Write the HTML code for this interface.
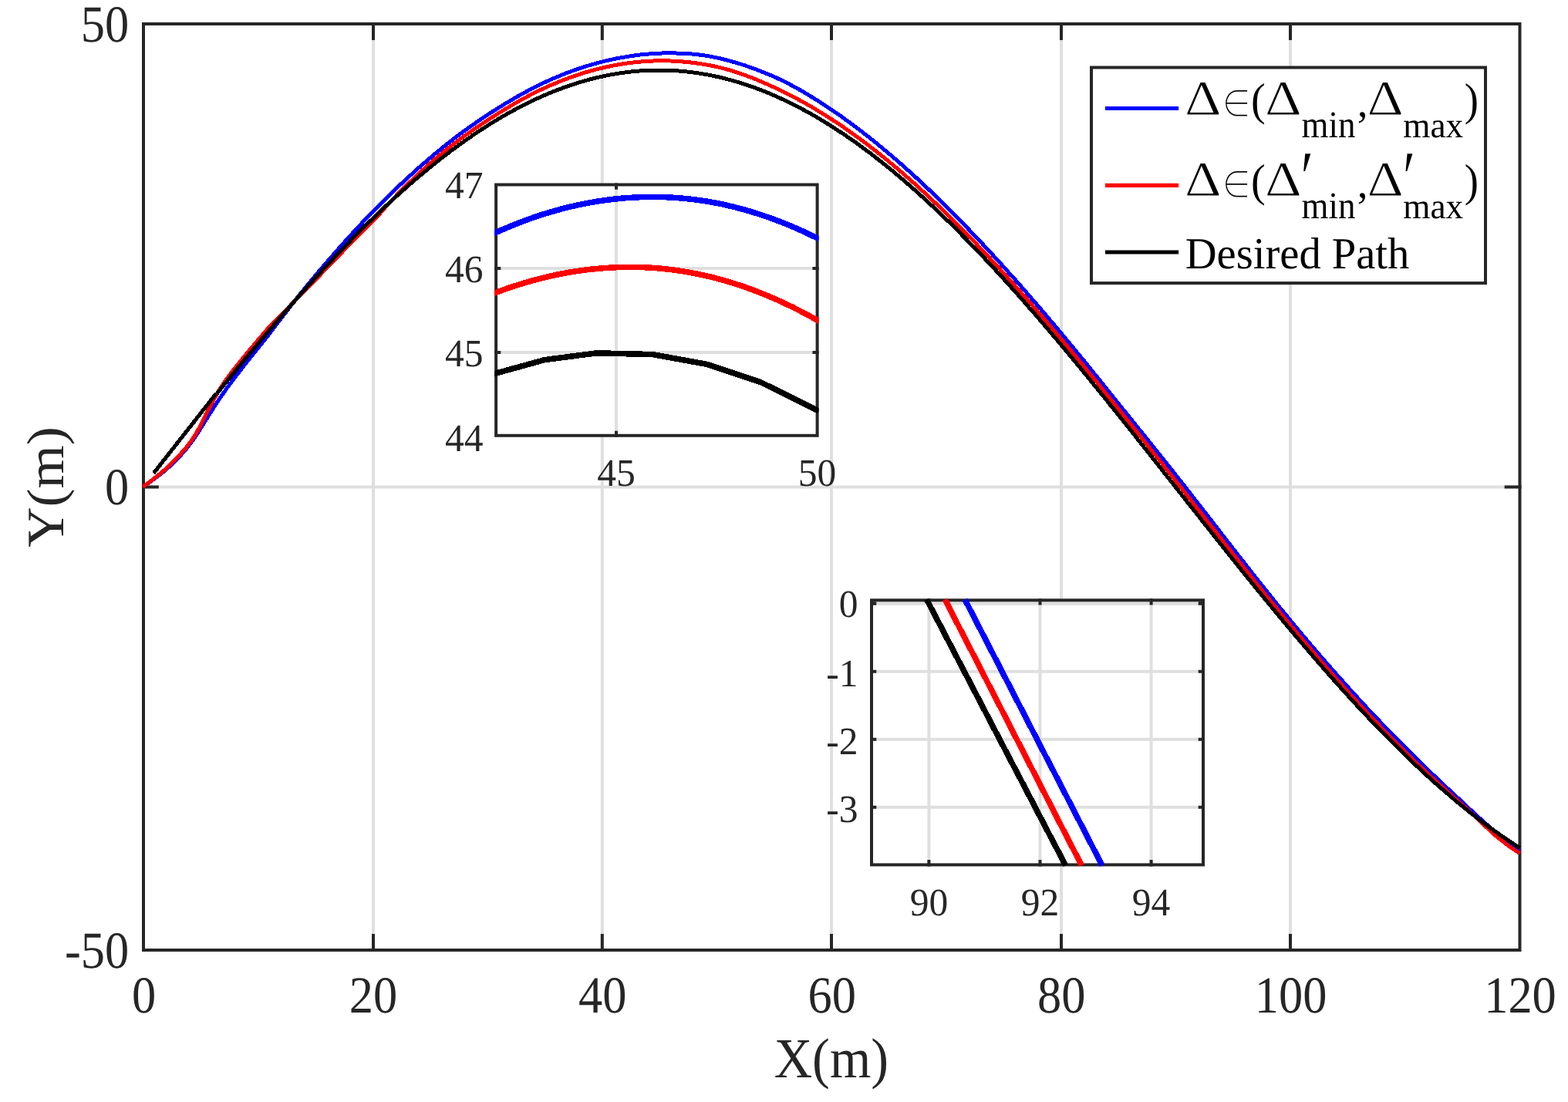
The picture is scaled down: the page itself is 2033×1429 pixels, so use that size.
<!DOCTYPE html>
<html lang="en"><head><meta charset="utf-8"><title>Path tracking comparison</title>
<style>html,body{margin:0;padding:0;background:#fff;}body{width:2033px;height:1429px;overflow:hidden;}svg{display:block;}text{font-family:"Liberation Serif","Times New Roman",Times,serif;fill:#262626;font-kerning:none;text-rendering:geometricPrecision;}.lg{fill:#000;}.dv{font-family:"DejaVu Sans","Liberation Sans",sans-serif;}.cv{fill:none;stroke-linejoin:round;stroke-linecap:butt;shape-rendering:crispEdges;}</style></head><body>
<svg width="2033" height="1429" viewBox="0 0 2033 1429">
<rect x="0" y="0" width="2033" height="1429" fill="#fff"/>
<path d="M484.00 31.00 V1232.00 M780.80 31.00 V1232.00 M1078.00 31.00 V1232.00 M1376.00 31.00 V1232.00 M1673.00 31.00 V1232.00 M186.00 631.50 H1970.50" stroke="#dfdfdf" stroke-width="4" fill="none"/>
<path d="M484.00 1232.00 v-18.92 M484.00 31.00 v18.92 M780.80 1232.00 v-18.92 M780.80 31.00 v18.92 M1078.00 1232.00 v-18.92 M1078.00 31.00 v18.92 M1376.00 1232.00 v-18.92 M1376.00 31.00 v18.92 M1673.00 1232.00 v-18.92 M1673.00 31.00 v18.92 M186.00 631.50 h17.84 M1970.50 631.50 h-17.84" stroke="#262626" stroke-width="4" stroke-linecap="square" fill="none"/>
<rect x="186.00" y="31.00" width="1784.50" height="1201.00" stroke="#262626" stroke-width="4" fill="none"/>
<clipPath id="cm"><rect x="184.00" y="29.00" width="1788.50" height="1205.00"/></clipPath>
<g class="cv" clip-path="url(#cm)" stroke-width="5.0">
<path d="M184.9 631.5 L188.6 629.0 L192.3 626.4 L196.1 623.8 L199.8 621.0 L203.5 618.3 L207.2 615.4 L210.9 612.5 L214.7 609.4 L218.4 606.1 L222.1 602.8 L225.8 599.3 L229.5 595.4 L233.3 591.4 L237.0 587.3 L240.7 583.0 L244.4 578.5 L248.1 573.5 L251.9 568.2 L255.6 562.5 L259.3 556.9 L263.0 551.1 L266.7 545.0 L270.5 538.9 L274.2 533.1 L277.9 527.4 L281.6 521.7 L285.3 516.1 L289.1 510.6 L292.8 505.3 L296.5 500.1 L300.2 495.1 L303.9 490.2 L307.7 485.4 L311.4 480.6 L315.1 475.8 L318.8 471.1 L322.5 466.4 L326.3 461.7 L330.0 457.1 L333.7 452.5 L337.4 447.8 L341.1 443.2 L344.9 438.5 L348.6 433.7 L352.3 428.8 L356.0 423.9 L359.7 418.9 L363.5 414.1 L367.2 409.3 L370.9 404.5 L374.6 399.7 L378.3 394.9 L382.1 390.3 L385.8 385.6 L389.5 381.0 L393.2 376.4 L396.9 371.9 L400.7 367.4 L404.4 362.9 L408.1 358.4 L411.8 354.0 L415.5 349.6 L419.3 345.2 L423.0 340.9 L426.7 336.6 L430.4 332.3 L434.1 328.1 L437.9 323.8 L441.6 319.6 L445.3 315.4 L449.0 311.3 L452.7 307.2 L456.5 303.1 L460.2 299.1 L463.9 295.0 L467.6 291.0 L471.3 287.1 L475.1 283.2 L478.8 279.3 L482.5 275.5 L486.2 271.6 L489.9 267.9 L493.7 264.1 L497.4 260.4 L501.1 256.7 L504.8 253.1 L508.5 249.5 L512.3 245.9 L516.0 242.3 L519.7 238.8 L523.4 235.3 L527.1 231.9 L530.9 228.5 L534.6 225.1 L538.3 221.7 L542.0 218.4 L545.7 215.1 L549.5 211.9 L553.2 208.7 L556.9 205.5 L560.6 202.3 L564.3 199.2 L568.1 196.1 L571.8 193.1 L575.5 190.1 L579.2 187.1 L582.9 184.2 L586.7 181.3 L590.4 178.4 L594.1 175.6 L597.8 172.9 L601.5 170.1 L605.3 167.4 L609.0 164.8 L612.7 162.2 L616.4 159.6 L620.1 157.0 L623.9 154.5 L627.6 152.0 L631.3 149.5 L635.0 147.1 L638.7 144.7 L642.5 142.3 L646.2 139.9 L649.9 137.6 L653.6 135.3 L657.3 133.1 L661.1 130.9 L664.8 128.7 L668.5 126.5 L672.2 124.4 L675.9 122.3 L679.7 120.3 L683.4 118.3 L687.1 116.3 L690.8 114.4 L694.5 112.5 L698.3 110.6 L702.0 108.8 L705.7 107.1 L709.4 105.3 L713.1 103.7 L716.9 102.0 L720.6 100.4 L724.3 98.9 L728.0 97.3 L731.7 95.9 L735.5 94.4 L739.2 93.0 L742.9 91.7 L746.6 90.3 L750.3 89.1 L754.1 87.8 L757.8 86.6 L761.5 85.5 L765.2 84.3 L768.9 83.3 L772.7 82.2 L776.4 81.2 L780.1 80.3 L783.8 79.3 L787.5 78.4 L791.3 77.6 L795.0 76.8 L798.7 76.0 L802.4 75.3 L806.1 74.6 L809.9 74.0 L813.6 73.3 L817.3 72.8 L821.0 72.2 L824.7 71.7 L828.5 71.2 L832.2 70.8 L835.9 70.4 L839.6 70.1 L843.3 69.8 L847.1 69.5 L850.8 69.3 L854.5 69.1 L858.2 69.0 L861.9 68.9 L865.7 68.9 L869.4 68.9 L873.1 68.9 L876.8 69.0 L880.5 69.1 L884.3 69.2 L888.0 69.4 L891.7 69.6 L895.4 69.9 L899.1 70.2 L902.9 70.6 L906.6 71.0 L910.3 71.5 L914.0 72.0 L917.7 72.6 L921.5 73.3 L925.2 74.0 L928.9 74.8 L932.6 75.6 L936.3 76.5 L940.1 77.4 L943.8 78.4 L947.5 79.4 L951.2 80.4 L954.9 81.5 L958.7 82.6 L962.4 83.8 L966.1 85.0 L969.8 86.3 L973.5 87.6 L977.3 88.9 L981.0 90.3 L984.7 91.7 L988.4 93.2 L992.1 94.7 L995.9 96.2 L999.6 97.8 L1003.3 99.4 L1007.0 101.0 L1010.7 102.8 L1014.5 104.6 L1018.2 106.4 L1021.9 108.3 L1025.6 110.3 L1029.3 112.3 L1033.1 114.3 L1036.8 116.4 L1040.5 118.6 L1044.2 120.8 L1047.9 123.0 L1051.7 125.3 L1055.4 127.6 L1059.1 129.9 L1062.8 132.3 L1066.5 134.7 L1070.3 137.1 L1074.0 139.6 L1077.7 142.1 L1081.4 144.6 L1085.1 147.1 L1088.9 149.7 L1092.6 152.3 L1096.3 155.0 L1100.0 157.7 L1103.7 160.4 L1107.5 163.2 L1111.2 166.0 L1114.9 168.8 L1118.6 171.7 L1122.3 174.5 L1126.1 177.5 L1129.8 180.4 L1133.5 183.4 L1137.2 186.4 L1140.9 189.5 L1144.7 192.6 L1148.4 195.7 L1152.1 198.8 L1155.8 202.0 L1159.5 205.1 L1163.3 208.4 L1167.0 211.6 L1170.7 214.9 L1174.4 218.2 L1178.1 221.5 L1181.9 224.9 L1185.6 228.3 L1189.3 231.7 L1193.0 235.2 L1196.7 238.7 L1200.5 242.2 L1204.2 245.7 L1207.9 249.3 L1211.6 252.9 L1215.3 256.5 L1219.1 260.1 L1222.8 263.8 L1226.5 267.5 L1230.2 271.2 L1233.9 274.9 L1237.7 278.7 L1241.4 282.5 L1245.1 286.3 L1248.8 290.1 L1252.5 293.9 L1256.3 297.8 L1260.0 301.7 L1263.7 305.6 L1267.4 309.5 L1271.1 313.4 L1274.9 317.4 L1278.6 321.4 L1282.3 325.4 L1286.0 329.4 L1289.7 333.4 L1293.5 337.5 L1297.2 341.6 L1300.9 345.6 L1304.6 349.8 L1308.3 353.9 L1312.1 358.1 L1315.8 362.2 L1319.5 366.4 L1323.2 370.6 L1326.9 374.9 L1330.7 379.1 L1334.4 383.4 L1338.1 387.7 L1341.8 392.0 L1345.5 396.3 L1349.3 400.6 L1353.0 405.0 L1356.7 409.3 L1360.4 413.7 L1364.1 418.1 L1367.9 422.5 L1371.6 427.0 L1375.3 431.4 L1379.0 435.9 L1382.7 440.3 L1386.5 444.8 L1390.2 449.3 L1393.9 453.8 L1397.6 458.4 L1401.3 462.9 L1405.1 467.5 L1408.8 472.0 L1412.5 476.6 L1416.2 481.2 L1419.9 485.8 L1423.7 490.4 L1427.4 495.0 L1431.1 499.6 L1434.8 504.2 L1438.5 508.8 L1442.3 513.5 L1446.0 518.1 L1449.7 522.8 L1453.4 527.4 L1457.1 532.0 L1460.9 536.7 L1464.6 541.3 L1468.3 545.9 L1472.0 550.5 L1475.7 555.1 L1479.5 559.7 L1483.2 564.3 L1486.9 569.0 L1490.6 573.6 L1494.3 578.2 L1498.1 582.8 L1501.8 587.5 L1505.5 592.1 L1509.2 596.8 L1512.9 601.4 L1516.7 606.1 L1520.4 610.8 L1524.1 615.5 L1527.8 620.2 L1531.5 625.0 L1535.3 629.7 L1539.0 634.5 L1542.7 639.2 L1546.4 644.0 L1550.1 648.8 L1553.9 653.6 L1557.6 658.3 L1561.3 663.1 L1565.0 667.9 L1568.7 672.7 L1572.5 677.5 L1576.2 682.3 L1579.9 687.1 L1583.6 691.9 L1587.3 696.7 L1591.1 701.5 L1594.8 706.2 L1598.5 711.0 L1602.2 715.8 L1605.9 720.6 L1609.7 725.3 L1613.4 730.1 L1617.1 734.8 L1620.8 739.5 L1624.5 744.3 L1628.3 749.0 L1632.0 753.7 L1635.7 758.4 L1639.4 763.0 L1643.1 767.7 L1646.9 772.3 L1650.6 777.0 L1654.3 781.6 L1658.0 786.2 L1661.7 790.7 L1665.5 795.3 L1669.2 799.8 L1672.9 804.3 L1676.6 808.8 L1680.3 813.3 L1684.1 817.8 L1687.8 822.2 L1691.5 826.6 L1695.2 831.0 L1698.9 835.4 L1702.7 839.8 L1706.4 844.1 L1710.1 848.4 L1713.8 852.7 L1717.5 857.0 L1721.3 861.3 L1725.0 865.5 L1728.7 869.8 L1732.4 874.0 L1736.1 878.2 L1739.9 882.3 L1743.6 886.5 L1747.3 890.6 L1751.0 894.7 L1754.7 898.8 L1758.5 902.9 L1762.2 907.0 L1765.9 911.0 L1769.6 915.0 L1773.3 919.0 L1777.1 923.0 L1780.8 926.9 L1784.5 930.8 L1788.2 934.7 L1791.9 938.6 L1795.7 942.5 L1799.4 946.3 L1803.1 950.1 L1806.8 953.9 L1810.5 957.7 L1814.3 961.5 L1818.0 965.2 L1821.7 968.9 L1825.4 972.6 L1829.1 976.3 L1832.9 980.0 L1836.6 983.7 L1840.3 987.3 L1844.0 990.9 L1847.7 994.6 L1851.5 998.2 L1855.2 1001.8 L1858.9 1005.4 L1862.6 1008.9 L1866.3 1012.5 L1870.1 1016.0 L1873.8 1019.5 L1877.5 1023.0 L1881.2 1026.4 L1884.9 1029.9 L1888.7 1033.3 L1892.4 1036.8 L1896.1 1040.3 L1899.8 1043.7 L1903.5 1047.2 L1907.3 1050.7 L1911.0 1054.1 L1914.7 1057.5 L1918.4 1060.9 L1922.1 1064.3 L1925.9 1067.6 L1929.6 1070.9 L1933.3 1074.2 L1937.0 1077.5 L1940.7 1080.9 L1944.5 1084.2 L1948.2 1087.5 L1951.9 1090.6 L1955.6 1093.4 L1959.3 1096.1 L1963.1 1098.8 L1966.8 1101.3 L1970.5 1103.7" stroke="#0000ff"/>
<path d="M184.9 631.5 L188.6 628.9 L192.3 626.1 L196.1 623.3 L199.8 620.4 L203.5 617.5 L207.2 614.5 L210.9 611.4 L214.7 608.2 L218.4 604.7 L222.1 601.2 L225.8 597.6 L229.5 593.6 L233.3 589.5 L237.0 585.3 L240.7 581.0 L244.4 576.5 L248.1 571.4 L251.9 565.7 L255.6 559.6 L259.3 553.2 L263.0 545.6 L266.7 537.7 L270.5 530.8 L274.2 524.5 L277.9 517.1 L281.6 509.9 L285.3 504.0 L289.1 498.3 L292.8 492.9 L296.5 487.8 L300.2 483.0 L303.9 478.2 L307.7 473.5 L311.4 468.8 L315.1 464.2 L318.8 459.7 L322.5 455.2 L326.3 450.8 L330.0 446.3 L333.7 441.9 L337.4 437.5 L341.1 433.2 L344.9 428.8 L348.6 424.7 L352.3 420.7 L356.0 416.9 L359.7 413.1 L363.5 409.3 L367.2 405.5 L370.9 401.7 L374.6 398.0 L378.3 394.2 L382.1 390.4 L385.8 386.6 L389.5 382.8 L393.2 379.0 L396.9 375.2 L400.7 371.4 L404.4 367.5 L408.1 363.7 L411.8 359.8 L415.5 356.0 L419.3 352.1 L423.0 348.3 L426.7 344.5 L430.4 340.6 L434.1 336.8 L437.9 332.9 L441.6 329.0 L445.3 325.1 L449.0 321.3 L452.7 317.4 L456.5 313.6 L460.2 309.9 L463.9 306.1 L467.6 302.4 L471.3 298.7 L475.1 295.0 L478.8 291.3 L482.5 287.7 L486.2 283.9 L489.9 279.9 L493.7 275.7 L497.4 271.4 L501.1 267.2 L504.8 263.1 L508.5 259.2 L512.3 255.3 L516.0 251.5 L519.7 247.7 L523.4 244.0 L527.1 240.3 L530.9 236.6 L534.6 233.0 L538.3 229.4 L542.0 225.9 L545.7 222.5 L549.5 219.1 L553.2 215.7 L556.9 212.4 L560.6 209.2 L564.3 206.0 L568.1 202.9 L571.8 199.8 L575.5 196.7 L579.2 193.7 L582.9 190.8 L586.7 187.9 L590.4 185.1 L594.1 182.3 L597.8 179.5 L601.5 176.8 L605.3 174.2 L609.0 171.6 L612.7 169.0 L616.4 166.4 L620.1 163.9 L623.9 161.4 L627.6 158.9 L631.3 156.5 L635.0 154.1 L638.7 151.7 L642.5 149.3 L646.2 147.0 L649.9 144.7 L653.6 142.4 L657.3 140.1 L661.1 137.9 L664.8 135.7 L668.5 133.6 L672.2 131.5 L675.9 129.4 L679.7 127.4 L683.4 125.4 L687.1 123.4 L690.8 121.5 L694.5 119.6 L698.3 117.8 L702.0 116.0 L705.7 114.3 L709.4 112.6 L713.1 110.9 L716.9 109.3 L720.6 107.8 L724.3 106.2 L728.0 104.8 L731.7 103.3 L735.5 101.9 L739.2 100.5 L742.9 99.2 L746.6 97.9 L750.3 96.7 L754.1 95.5 L757.8 94.3 L761.5 93.2 L765.2 92.1 L768.9 91.1 L772.7 90.1 L776.4 89.2 L780.1 88.3 L783.8 87.4 L787.5 86.6 L791.3 85.8 L795.0 85.0 L798.7 84.3 L802.4 83.7 L806.1 83.1 L809.9 82.5 L813.6 81.9 L817.3 81.5 L821.0 81.0 L824.7 80.6 L828.5 80.2 L832.2 79.9 L835.9 79.6 L839.6 79.4 L843.3 79.2 L847.1 79.0 L850.8 78.9 L854.5 78.9 L858.2 78.8 L861.9 78.9 L865.7 78.9 L869.4 79.0 L873.1 79.2 L876.8 79.4 L880.5 79.6 L884.3 79.9 L888.0 80.2 L891.7 80.6 L895.4 81.0 L899.1 81.4 L902.9 81.9 L906.6 82.4 L910.3 83.0 L914.0 83.6 L917.7 84.3 L921.5 85.0 L925.2 85.7 L928.9 86.5 L932.6 87.4 L936.3 88.3 L940.1 89.3 L943.8 90.3 L947.5 91.4 L951.2 92.5 L954.9 93.7 L958.7 95.0 L962.4 96.3 L966.1 97.6 L969.8 99.0 L973.5 100.4 L977.3 101.9 L981.0 103.4 L984.7 104.9 L988.4 106.5 L992.1 108.1 L995.9 109.7 L999.6 111.4 L1003.3 113.1 L1007.0 114.8 L1010.7 116.5 L1014.5 118.3 L1018.2 120.2 L1021.9 122.0 L1025.6 123.9 L1029.3 125.9 L1033.1 127.9 L1036.8 129.9 L1040.5 131.9 L1044.2 134.0 L1047.9 136.1 L1051.7 138.3 L1055.4 140.5 L1059.1 142.7 L1062.8 145.0 L1066.5 147.2 L1070.3 149.6 L1074.0 151.9 L1077.7 154.3 L1081.4 156.8 L1085.1 159.2 L1088.9 161.7 L1092.6 164.2 L1096.3 166.8 L1100.0 169.4 L1103.7 172.0 L1107.5 174.7 L1111.2 177.4 L1114.9 180.1 L1118.6 182.9 L1122.3 185.7 L1126.1 188.5 L1129.8 191.4 L1133.5 194.3 L1137.2 197.2 L1140.9 200.1 L1144.7 203.1 L1148.4 206.1 L1152.1 209.2 L1155.8 212.3 L1159.5 215.4 L1163.3 218.5 L1167.0 221.7 L1170.7 224.9 L1174.4 228.1 L1178.1 231.4 L1181.9 234.7 L1185.6 238.0 L1189.3 241.4 L1193.0 244.8 L1196.7 248.2 L1200.5 251.6 L1204.2 255.1 L1207.9 258.6 L1211.6 262.1 L1215.3 265.7 L1219.1 269.2 L1222.8 272.8 L1226.5 276.5 L1230.2 280.1 L1233.9 283.8 L1237.7 287.5 L1241.4 291.2 L1245.1 295.0 L1248.8 298.7 L1252.5 302.5 L1256.3 306.4 L1260.0 310.2 L1263.7 314.1 L1267.4 317.9 L1271.1 321.8 L1274.9 325.8 L1278.6 329.7 L1282.3 333.7 L1286.0 337.7 L1289.7 341.7 L1293.5 345.7 L1297.2 349.7 L1300.9 353.8 L1304.6 357.9 L1308.3 362.0 L1312.1 366.1 L1315.8 370.3 L1319.5 374.4 L1323.2 378.6 L1326.9 382.8 L1330.7 387.0 L1334.4 391.3 L1338.1 395.5 L1341.8 399.8 L1345.5 404.1 L1349.3 408.4 L1353.0 412.7 L1356.7 417.0 L1360.4 421.4 L1364.1 425.8 L1367.9 430.2 L1371.6 434.6 L1375.3 439.0 L1379.0 443.4 L1382.7 447.8 L1386.5 452.3 L1390.2 456.8 L1393.9 461.2 L1397.6 465.7 L1401.3 470.2 L1405.1 474.7 L1408.8 479.3 L1412.5 483.8 L1416.2 488.3 L1419.9 492.9 L1423.7 497.4 L1427.4 502.0 L1431.1 506.6 L1434.8 511.2 L1438.5 515.8 L1442.3 520.4 L1446.0 525.0 L1449.7 529.6 L1453.4 534.3 L1457.1 538.9 L1460.9 543.5 L1464.6 548.2 L1468.3 552.8 L1472.0 557.5 L1475.7 562.2 L1479.5 566.9 L1483.2 571.5 L1486.9 576.2 L1490.6 580.9 L1494.3 585.6 L1498.1 590.3 L1501.8 595.0 L1505.5 599.7 L1509.2 604.4 L1512.9 609.1 L1516.7 613.8 L1520.4 618.5 L1524.1 623.2 L1527.8 628.0 L1531.5 632.7 L1535.3 637.4 L1539.0 642.2 L1542.7 646.9 L1546.4 651.6 L1550.1 656.4 L1553.9 661.1 L1557.6 665.9 L1561.3 670.6 L1565.0 675.4 L1568.7 680.1 L1572.5 684.8 L1576.2 689.6 L1579.9 694.3 L1583.6 699.1 L1587.3 703.8 L1591.1 708.5 L1594.8 713.2 L1598.5 718.0 L1602.2 722.7 L1605.9 727.4 L1609.7 732.1 L1613.4 736.8 L1617.1 741.5 L1620.8 746.1 L1624.5 750.8 L1628.3 755.5 L1632.0 760.1 L1635.7 764.7 L1639.4 769.4 L1643.1 774.0 L1646.9 778.6 L1650.6 783.1 L1654.3 787.7 L1658.0 792.3 L1661.7 796.8 L1665.5 801.3 L1669.2 805.8 L1672.9 810.3 L1676.6 814.8 L1680.3 819.3 L1684.1 823.7 L1687.8 828.1 L1691.5 832.6 L1695.2 837.0 L1698.9 841.3 L1702.7 845.7 L1706.4 850.0 L1710.1 854.4 L1713.8 858.7 L1717.5 863.0 L1721.3 867.2 L1725.0 871.5 L1728.7 875.7 L1732.4 879.9 L1736.1 884.1 L1739.9 888.3 L1743.6 892.5 L1747.3 896.6 L1751.0 900.7 L1754.7 904.8 L1758.5 908.9 L1762.2 913.0 L1765.9 917.0 L1769.6 921.0 L1773.3 925.0 L1777.1 929.0 L1780.8 932.9 L1784.5 936.8 L1788.2 940.7 L1791.9 944.6 L1795.7 948.5 L1799.4 952.3 L1803.1 956.1 L1806.8 959.9 L1810.5 963.7 L1814.3 967.4 L1818.0 971.1 L1821.7 974.8 L1825.4 978.5 L1829.1 982.1 L1832.9 985.7 L1836.6 989.3 L1840.3 992.9 L1844.0 996.4 L1847.7 999.9 L1851.5 1003.4 L1855.2 1006.9 L1858.9 1010.3 L1862.6 1013.7 L1866.3 1017.1 L1870.1 1020.5 L1873.8 1023.8 L1877.5 1027.2 L1881.2 1030.5 L1884.9 1033.8 L1888.7 1037.1 L1892.4 1040.5 L1896.1 1043.8 L1899.8 1047.2 L1903.5 1050.5 L1907.3 1053.9 L1911.0 1057.2 L1914.7 1060.6 L1918.4 1064.1 L1922.1 1067.7 L1925.9 1071.4 L1929.6 1075.0 L1933.3 1078.5 L1937.0 1081.8 L1940.7 1085.0 L1944.5 1087.9 L1948.2 1090.8 L1951.9 1093.7 L1955.6 1096.5 L1959.3 1099.2 L1963.1 1101.8 L1966.8 1104.3 L1970.5 1106.7" stroke="#ff0000"/>
<path d="M199.2 613.6 L280.1 510.6" stroke="#000000"/>
<path d="M281.0 510.7 L285.2 505.4 L289.5 500.2 L293.7 495.1 L297.9 489.9 L302.1 484.7 L306.4 479.6 L310.6 474.4 L314.8 469.3 L319.0 464.2 L323.3 459.1 L327.5 454.1 L331.7 449.0 L335.9 444.0 L340.2 439.0 L344.4 434.0 L348.6 429.0 L352.8 424.1 L357.1 419.1 L361.3 414.2 L365.5 409.3 L369.7 404.5 L373.9 399.6 L378.2 394.8 L382.4 390.0 L386.6 385.2 L390.8 380.4 L395.1 375.7 L399.3 371.0 L403.5 366.3 L407.7 361.7 L412.0 357.0 L416.2 352.4 L420.4 347.9 L424.6 343.3 L428.9 338.8 L433.1 334.3 L437.3 329.9 L441.5 325.4 L445.7 321.0 L450.0 316.7 L454.2 312.3 L458.4 308.0 L462.6 303.8 L466.9 299.5 L471.1 295.3 L475.3 291.1 L479.5 287.0 L483.8 282.9 L488.0 278.8 L492.2 274.8 L496.4 270.8 L500.7 266.8 L504.9 262.9 L509.1 259.0 L513.3 255.1 L517.6 251.3 L521.8 247.5 L526.0 243.7 L530.2 240.0 L534.4 236.4 L538.7 232.7 L542.9 229.1 L547.1 225.6 L551.3 222.1 L555.6 218.6 L559.8 215.1 L564.0 211.8 L568.2 208.4 L572.5 205.1 L576.7 201.8 L580.9 198.6 L585.1 195.4 L589.4 192.3 L593.6 189.2 L597.8 186.1 L602.0 183.1 L606.2 180.1 L610.5 177.2 L614.7 174.3 L618.9 171.5 L623.1 168.7 L627.4 166.0 L631.6 163.3 L635.8 160.6 L640.0 158.0 L644.3 155.5 L648.5 152.9 L652.7 150.5 L656.9 148.1 L661.2 145.7 L665.4 143.4 L669.6 141.1 L673.8 138.9 L678.1 136.7 L682.3 134.6 L686.5 132.5 L690.7 130.4 L694.9 128.5 L699.2 126.5 L703.4 124.7 L707.6 122.8 L711.8 121.0 L716.1 119.3 L720.3 117.6 L724.5 116.0 L728.7 114.4 L733.0 112.9 L737.2 111.4 L741.4 110.0 L745.6 108.6 L749.9 107.3 L754.1 106.0 L758.3 104.8 L762.5 103.6 L766.7 102.5 L771.0 101.4 L775.2 100.4 L779.4 99.4 L783.6 98.5 L787.9 97.6 L792.1 96.8 L796.3 96.1 L800.5 95.4 L804.8 94.7 L809.0 94.1 L813.2 93.6 L817.4 93.1 L821.7 92.7 L825.9 92.3 L830.1 91.9 L834.3 91.7 L838.6 91.4 L842.8 91.3 L847.0 91.1 L851.2 91.1 L855.4 91.1 L859.7 91.1 L863.9 91.2 L868.1 91.3 L872.3 91.5 L876.6 91.8 L880.8 92.1 L885.0 92.4 L889.2 92.8 L893.5 93.3 L897.7 93.8 L901.9 94.4 L906.1 95.0 L910.4 95.7 L914.6 96.4 L918.8 97.2 L923.0 98.0 L927.2 98.9 L931.5 99.8 L935.7 100.8 L939.9 101.9 L944.1 103.0 L948.4 104.1 L952.6 105.3 L956.8 106.5 L961.0 107.8 L965.3 109.2 L969.5 110.6 L973.7 112.0 L977.9 113.5 L982.2 115.1 L986.4 116.7 L990.6 118.4 L994.8 120.1 L999.1 121.8 L1003.3 123.6 L1007.5 125.5 L1011.7 127.4 L1015.9 129.3 L1020.2 131.4 L1024.4 133.4 L1028.6 135.5 L1032.8 137.7 L1037.1 139.9 L1041.3 142.1 L1045.5 144.4 L1049.7 146.7 L1054.0 149.1 L1058.2 151.6 L1062.4 154.1 L1066.6 156.6 L1070.9 159.2 L1075.1 161.8 L1079.3 164.5 L1083.5 167.2 L1087.7 170.0 L1092.0 172.8 L1096.2 175.6 L1100.4 178.5 L1104.6 181.5 L1108.9 184.4 L1113.1 187.5 L1117.3 190.6 L1121.5 193.7 L1125.8 196.8 L1130.0 200.0 L1134.2 203.3 L1138.4 206.6 L1142.7 209.9 L1146.9 213.3 L1151.1 216.7 L1155.3 220.1 L1159.6 223.6 L1163.8 227.2 L1168.0 230.7 L1172.2 234.3 L1176.4 238.0 L1180.7 241.7 L1184.9 245.4 L1189.1 249.2 L1193.3 253.0 L1197.6 256.8 L1201.8 260.7 L1206.0 264.6 L1210.2 268.6 L1214.5 272.6 L1218.7 276.6 L1222.9 280.6 L1227.1 284.7 L1231.4 288.8 L1235.6 293.0 L1239.8 297.2 L1244.0 301.4 L1248.2 305.7 L1252.5 310.0 L1256.7 314.3 L1260.9 318.6 L1265.1 323.0 L1269.4 327.4 L1273.6 331.9 L1277.8 336.3 L1282.0 340.8 L1286.3 345.4 L1290.5 349.9 L1294.7 354.5 L1298.9 359.1 L1303.2 363.8 L1307.4 368.4 L1311.6 373.1 L1315.8 377.8 L1320.1 382.6 L1324.3 387.3 L1328.5 392.1 L1332.7 396.9 L1336.9 401.8 L1341.2 406.6 L1345.4 411.5 L1349.6 416.4 L1353.8 421.3 L1358.1 426.3 L1362.3 431.2 L1366.5 436.2 L1370.7 441.2 L1375.0 446.3 L1379.2 451.3 L1383.4 456.3 L1387.6 461.4 L1391.9 466.5 L1396.1 471.6 L1400.3 476.7 L1404.5 481.9 L1408.7 487.0 L1413.0 492.2 L1417.2 497.4 L1421.4 502.6 L1425.6 507.8 L1429.9 513.0 L1434.1 518.2 L1438.3 523.5 L1442.5 528.7 L1446.8 534.0 L1451.0 539.3 L1455.2 544.5 L1459.4 549.8 L1463.7 555.1 L1467.9 560.4 L1472.1 565.7 L1476.3 571.1 L1480.6 576.4 L1484.8 581.7 L1489.0 587.0 L1493.2 592.4 L1497.4 597.7 L1501.7 603.1 L1505.9 608.4 L1510.1 613.8 L1514.3 619.1 L1518.6 624.5 L1522.8 629.8 L1527.0 635.2 L1531.2 640.5 L1535.5 645.9 L1539.7 651.3 L1543.9 656.6 L1548.1 662.0 L1552.4 667.3 L1556.6 672.6 L1560.8 678.0 L1565.0 683.3 L1569.2 688.6 L1573.5 694.0 L1577.7 699.3 L1581.9 704.6 L1586.1 709.9 L1590.4 715.2 L1594.6 720.5 L1598.8 725.7 L1603.0 731.0 L1607.3 736.3 L1611.5 741.5 L1615.7 746.8 L1619.9 752.0 L1624.2 757.2 L1628.4 762.4 L1632.6 767.6 L1636.8 772.8 L1641.1 777.9 L1645.3 783.1 L1649.5 788.2 L1653.7 793.3 L1657.9 798.4 L1662.2 803.5 L1666.4 808.6 L1670.6 813.6 L1674.8 818.7 L1679.1 823.7 L1683.3 828.7 L1687.5 833.6 L1691.7 838.6 L1696.0 843.5 L1700.2 848.4 L1704.4 853.3 L1708.6 858.2 L1712.9 863.1 L1717.1 867.9 L1721.3 872.7 L1725.5 877.5 L1729.7 882.2 L1734.0 887.0 L1738.2 891.7 L1742.4 896.4 L1746.6 901.0 L1750.9 905.6 L1755.1 910.2 L1759.3 914.8 L1763.5 919.4 L1767.8 923.9 L1772.0 928.4 L1776.2 932.8 L1780.4 937.3 L1784.7 941.7 L1788.9 946.0 L1793.1 950.4 L1797.3 954.7 L1801.6 958.9 L1805.8 963.2 L1810.0 967.4 L1814.2 971.6 L1818.4 975.7 L1822.7 979.8 L1826.9 983.9 L1831.1 988.0 L1835.3 992.0 L1839.6 995.9 L1843.8 999.9 L1848.0 1003.8 L1852.2 1007.6 L1856.5 1011.5 L1860.7 1015.3 L1864.9 1019.0 L1869.1 1022.7 L1873.4 1026.4 L1877.6 1030.0 L1881.8 1033.6 L1886.0 1037.2 L1890.2 1040.7 L1894.5 1044.2 L1898.7 1047.6 L1902.9 1051.0 L1907.1 1054.4 L1911.4 1057.7 L1915.6 1061.0 L1919.8 1064.2 L1924.0 1067.4 L1928.3 1070.5 L1932.5 1073.6 L1936.7 1076.7 L1940.9 1079.7 L1945.2 1082.7 L1949.4 1085.6 L1953.6 1088.5 L1957.8 1091.3 L1962.1 1094.1 L1966.3 1096.8 L1970.5 1099.5" stroke="#000000"/>
</g>
<text class="" font-size="67.50" text-anchor="middle" transform="matrix(0.9250 0 0 1.0000 186.50 1312.50)">0</text>
<text class="" font-size="67.50" text-anchor="middle" transform="matrix(0.9250 0 0 1.0000 483.92 1312.50)">20</text>
<text class="" font-size="67.50" text-anchor="middle" transform="matrix(0.9250 0 0 1.0000 781.33 1312.50)">40</text>
<text class="" font-size="67.50" text-anchor="middle" transform="matrix(0.9250 0 0 1.0000 1078.75 1312.50)">60</text>
<text class="" font-size="67.50" text-anchor="middle" transform="matrix(0.9250 0 0 1.0000 1376.17 1312.50)">80</text>
<text class="" font-size="67.50" text-anchor="middle" transform="matrix(0.9250 0 0 1.0000 1673.58 1312.50)">100</text>
<text class="" font-size="67.50" text-anchor="middle" transform="matrix(0.9250 0 0 1.0000 1971.00 1312.50)">120</text>
<text class="" font-size="67.50" text-anchor="end" transform="matrix(0.9250 0 0 1.0000 167.30 53.70)">50</text>
<text class="" font-size="67.50" text-anchor="end" transform="matrix(0.9250 0 0 1.0000 167.30 654.20)">0</text>
<text class="" font-size="67.50" text-anchor="end" transform="matrix(0.9250 0 0 1.0000 167.30 1254.70)">-50</text>
<text class="" font-size="100" transform="matrix(0.6843 0 0 0.7312 1003.70 1397.03)" >X(m)</text>
<text font-size="73.30" text-anchor="start" transform="translate(81.6 709.81) rotate(-90) scale(0.9860 0.9300)">Y(m)</text>
<rect x="643.10" y="239.50" width="416.50" height="325.30" fill="#fff"/>
<path d="M799.00 239.50 V564.80 M643.10 457.10 H1059.60 M643.10 348.00 H1059.60" stroke="#dfdfdf" stroke-width="4" fill="none"/>
<path d="M799.00 564.80 v-4.16 M799.00 239.50 v4.16 M643.10 457.10 h4.16 M1059.60 457.10 h-4.16 M643.10 348.00 h4.16 M1059.60 348.00 h-4.16" stroke="#262626" stroke-width="4" stroke-linecap="square" fill="none"/>
<rect x="643.10" y="239.50" width="416.50" height="325.30" stroke="#262626" stroke-width="4" fill="none"/>
<clipPath id="ci1"><rect x="641.10" y="237.30" width="420.50" height="329.70"/></clipPath>
<g class="cv" clip-path="url(#ci1)" stroke-width="7.5">
<path d="M640.6 302.6 L647.6 299.4 L654.6 296.4 L661.7 293.4 L668.7 290.6 L675.7 287.9 L682.7 285.2 L689.8 282.7 L696.8 280.3 L703.8 278.0 L710.8 275.9 L717.9 273.8 L724.9 271.8 L731.9 270.0 L739.0 268.2 L746.0 266.6 L753.0 265.1 L760.0 263.7 L767.0 262.4 L774.1 261.2 L781.1 260.1 L788.1 259.2 L795.1 258.3 L802.2 257.6 L809.2 256.9 L816.2 256.4 L823.2 256.0 L830.3 255.7 L837.3 255.5 L844.3 255.4 L851.3 255.4 L858.4 255.5 L865.4 255.8 L872.4 256.2 L879.4 256.7 L886.5 257.3 L893.5 258.0 L900.5 258.8 L907.5 259.8 L914.6 260.8 L921.6 262.0 L928.6 263.3 L935.7 264.7 L942.7 266.3 L949.7 267.9 L956.7 269.7 L963.8 271.6 L970.8 273.6 L977.8 275.7 L984.8 277.9 L991.9 280.3 L998.9 282.7 L1005.9 285.3 L1012.9 288.0 L1020.0 290.8 L1027.0 293.7 L1034.0 296.8 L1041.0 299.9 L1048.0 303.2 L1055.1 306.6 L1062.1 310.1" stroke="#0000ff"/>
<path d="M640.6 380.3 L647.6 377.7 L654.6 375.1 L661.7 372.7 L668.7 370.4 L675.7 368.2 L682.7 366.1 L689.8 364.0 L696.8 362.2 L703.8 360.4 L710.8 358.7 L717.9 357.1 L724.9 355.6 L731.9 354.3 L739.0 353.0 L746.0 351.9 L753.0 350.9 L760.0 349.9 L767.0 349.1 L774.1 348.4 L781.1 347.8 L788.1 347.3 L795.1 346.9 L802.2 346.6 L809.2 346.4 L816.2 346.4 L823.2 346.4 L830.3 346.6 L837.3 346.8 L844.3 347.2 L851.3 347.7 L858.4 348.3 L865.4 349.1 L872.4 349.9 L879.4 350.9 L886.5 352.0 L893.5 353.2 L900.5 354.5 L907.5 355.9 L914.6 357.5 L921.6 359.1 L928.6 360.9 L935.7 362.8 L942.7 364.8 L949.7 366.9 L956.7 369.2 L963.8 371.5 L970.8 374.0 L977.8 376.6 L984.8 379.3 L991.9 382.1 L998.9 385.1 L1005.9 388.1 L1012.9 391.3 L1020.0 394.6 L1027.0 397.9 L1034.0 401.5 L1041.0 405.1 L1048.0 408.8 L1055.1 412.7 L1062.1 416.7" stroke="#ff0000"/>
<path d="M640.6 484.7 L706.2 466.6 L774.0 457.8 L846.4 459.6 L917.3 472.5 L986.6 495.8 L1062.1 533.1" stroke="#000000"/>
</g>
<text class="" font-size="50.50" text-anchor="middle" transform="matrix(0.9800 0 0 1.0000 799.00 630.30)">45</text>
<text class="" font-size="50.50" text-anchor="middle" transform="matrix(0.9800 0 0 1.0000 1059.60 630.30)">50</text>
<text class="" font-size="50.50" text-anchor="end" transform="matrix(0.9800 0 0 1.0000 626.50 584.50)">44</text>
<text class="" font-size="50.50" text-anchor="end" transform="matrix(0.9800 0 0 1.0000 626.50 475.40)">45</text>
<text class="" font-size="50.50" text-anchor="end" transform="matrix(0.9800 0 0 1.0000 626.50 366.30)">46</text>
<text class="" font-size="50.50" text-anchor="end" transform="matrix(0.9800 0 0 1.0000 626.50 257.20)">47</text>
<rect x="1130.00" y="778.30" width="430.00" height="343.10" fill="#fff"/>
<path d="M1138.00 780.60 H1552.00" stroke="#dfdfdf" stroke-width="1.2" fill="none"/>
<path d="M1130.00 780.60 h6 M1560.00 780.60 h-6" stroke="#262626" stroke-width="1.2" fill="none"/>
<path d="M1204.40 778.30 V1121.40 M1348.50 778.30 V1121.40 M1492.60 778.30 V1121.40 M1130.00 1046.71 H1560.00 M1130.00 958.74 H1560.00 M1130.00 870.77 H1560.00 M1130.00 782.80 H1560.00" stroke="#dfdfdf" stroke-width="4" fill="none"/>
<path d="M1204.40 1121.40 v-4.30 M1204.40 778.30 v4.30 M1348.50 1121.40 v-4.30 M1348.50 778.30 v4.30 M1492.60 1121.40 v-4.30 M1492.60 778.30 v4.30 M1130.00 1046.71 h4.30 M1560.00 1046.71 h-4.30 M1130.00 958.74 h4.30 M1560.00 958.74 h-4.30 M1130.00 870.77 h4.30 M1560.00 870.77 h-4.30 M1130.00 782.80 h4.30 M1560.00 782.80 h-4.30" stroke="#262626" stroke-width="4" stroke-linecap="square" fill="none"/>
<rect x="1130.00" y="778.30" width="430.00" height="343.10" stroke="#262626" stroke-width="4" fill="none"/>
<clipPath id="ci2"><rect x="1128.00" y="776.10" width="434.00" height="347.50"/></clipPath>
<g class="cv" clip-path="url(#ci2)" stroke-width="7.5">
<path d="M1251.0 777.3 L1259.9 794.6 L1268.8 811.8 L1277.7 829.1 L1286.6 846.3 L1295.5 863.6 L1304.4 880.8 L1313.3 898.1 L1322.2 915.3 L1331.1 932.6 L1340.0 949.9 L1348.9 967.1 L1357.8 984.4 L1366.8 1001.6 L1375.7 1018.9 L1384.6 1036.1 L1393.5 1053.4 L1402.4 1070.6 L1411.3 1087.9 L1420.2 1105.1 L1429.1 1122.4" stroke="#0000ff"/>
<path d="M1225.2 777.3 L1234.1 794.6 L1242.9 811.8 L1251.8 829.1 L1260.7 846.3 L1269.5 863.6 L1278.4 880.8 L1287.2 898.1 L1296.1 915.3 L1305.0 932.6 L1313.8 949.9 L1322.7 967.1 L1331.5 984.4 L1340.4 1001.6 L1349.3 1018.9 L1358.1 1036.1 L1367.0 1053.4 L1375.8 1070.6 L1384.7 1087.9 L1393.6 1105.1 L1402.4 1122.4" stroke="#ff0000"/>
<path d="M1201.5 777.3 L1210.5 794.6 L1219.5 811.8 L1228.5 829.1 L1237.5 846.3 L1246.5 863.6 L1255.5 880.8 L1264.5 898.1 L1273.5 915.3 L1282.5 932.6 L1291.5 949.9 L1300.5 967.1 L1309.5 984.4 L1318.6 1001.6 L1327.6 1018.9 L1336.6 1036.1 L1345.6 1053.4 L1354.6 1070.6 L1363.6 1087.9 L1372.7 1105.1 L1381.7 1122.4" stroke="#000000"/>
</g>
<text class="" font-size="50.50" text-anchor="middle" transform="matrix(0.9800 0 0 1.0000 1204.40 1187.30)">90</text>
<text class="" font-size="50.50" text-anchor="middle" transform="matrix(0.9800 0 0 1.0000 1348.50 1187.30)">92</text>
<text class="" font-size="50.50" text-anchor="middle" transform="matrix(0.9800 0 0 1.0000 1492.60 1187.30)">94</text>
<text class="" font-size="50.50" text-anchor="end" transform="matrix(0.9800 0 0 1.0000 1112.50 1065.51)">-3</text>
<text class="" font-size="50.50" text-anchor="end" transform="matrix(0.9800 0 0 1.0000 1112.50 977.54)">-2</text>
<text class="" font-size="50.50" text-anchor="end" transform="matrix(0.9800 0 0 1.0000 1112.50 889.57)">-1</text>
<text class="" font-size="50.50" text-anchor="end" transform="matrix(0.9800 0 0 1.0000 1112.50 800.20)">0</text>
<rect x="1415.00" y="87.50" width="511.00" height="279.60" fill="#fff" stroke="#262626" stroke-width="4"/>
<path d="M1433 140.45 H1528.1" stroke="#0000ff" stroke-width="5.1" fill="none"/>
<path d="M1433 240.40 H1528.1" stroke="#ff0000" stroke-width="5.1" fill="none"/>
<path d="M1433 327.00 H1528.1" stroke="#000000" stroke-width="5.1" fill="none"/>
<text class="lg" font-size="100" transform="matrix(0.7402 0 0 0.6423 1536.08 149.10)"  stroke="#fff" stroke-width="1.45" stroke-linejoin="miter">Δ</text>
<text class="lg dv" font-size="100" transform="matrix(0.4270 0 0 0.4932 1584.55 151.32)"  stroke="#fff" stroke-width="4.36" stroke-linejoin="miter">∈</text>
<text class="lg" font-size="100" transform="matrix(0.5607 0 0 0.5911 1621.94 149.22)" >(</text>
<text class="lg" font-size="100" transform="matrix(0.7420 0 0 0.6423 1640.07 149.10)"  stroke="#fff" stroke-width="1.45" stroke-linejoin="miter">Δ</text>
<text class="lg" font-size="100" transform="matrix(0.4495 0 0 0.4924 1687.56 178.40)" >min</text>
<text class="lg" font-size="100" transform="matrix(0.5506 0 0 0.5685 1759.70 150.56)" >,</text>
<text class="lg" font-size="100" transform="matrix(0.7350 0 0 0.6423 1772.40 149.10)"  stroke="#fff" stroke-width="1.46" stroke-linejoin="miter">Δ</text>
<text class="lg" font-size="100" transform="matrix(0.4531 0 0 0.4637 1819.15 178.25)" >max</text>
<text class="lg" font-size="100" transform="matrix(0.5490 0 0 0.5911 1898.73 149.22)" >)</text>
<text class="lg" font-size="100" transform="matrix(0.7402 0 0 0.6423 1536.08 254.10)"  stroke="#fff" stroke-width="1.45" stroke-linejoin="miter">Δ</text>
<text class="lg dv" font-size="100" transform="matrix(0.4270 0 0 0.4932 1584.55 256.32)"  stroke="#fff" stroke-width="4.36" stroke-linejoin="miter">∈</text>
<text class="lg" font-size="100" transform="matrix(0.5607 0 0 0.5911 1621.94 254.22)" >(</text>
<text class="lg" font-size="100" transform="matrix(0.7420 0 0 0.6423 1640.07 254.10)"  stroke="#fff" stroke-width="1.45" stroke-linejoin="miter">Δ</text>
<text class="lg" font-size="100" transform="matrix(0.4495 0 0 0.4924 1687.56 283.40)" >min</text>
<text class="lg" font-size="100" transform="matrix(0.5506 0 0 0.5685 1759.70 255.56)" >,</text>
<text class="lg" font-size="100" transform="matrix(0.7350 0 0 0.6423 1772.40 254.10)"  stroke="#fff" stroke-width="1.46" stroke-linejoin="miter">Δ</text>
<text class="lg" font-size="100" transform="matrix(0.4531 0 0 0.4637 1819.15 283.25)" >max</text>
<text class="lg" font-size="100" transform="matrix(0.5490 0 0 0.5911 1898.73 254.22)" >)</text>
<text class="lg" font-size="100" transform="matrix(0.9491 0 0 1.0474 1684.62 267.48)"  stroke="#fff" stroke-width="1.81" stroke-linejoin="miter">′</text>
<text class="lg" font-size="100" transform="matrix(0.9241 0 0 1.0474 1816.94 267.48)"  stroke="#fff" stroke-width="1.83" stroke-linejoin="miter">′</text>
<text class="lg" font-size="100" transform="matrix(0.5656 0 0 0.5784 1536.77 347.64)" >Desired Path</text>
</svg></body></html>
